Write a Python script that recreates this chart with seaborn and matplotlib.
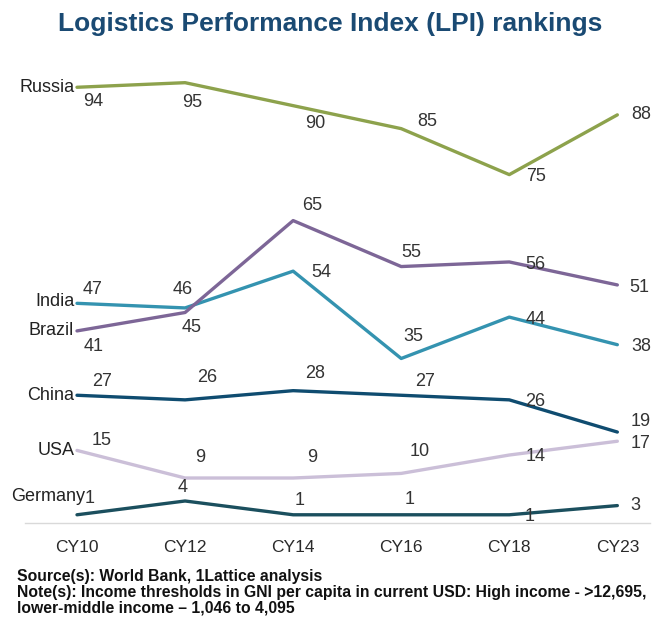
import pandas as pd
import seaborn as sns
from matplotlib import pyplot as plt
from matplotlib import font_manager

years = ['CY10', 'CY12', 'CY14', 'CY16', 'CY18', 'CY23']
countries = ['Russia', 'India', 'Brazil', 'China', 'USA', 'Germany']
russia = [94, 95, 90, 85, 75, 88]
india = [47, 46, 54, 35, 44, 38]
brazil = [41, 45, 65, 55, 56, 51]
china = [27, 26, 28, 27, 26, 19]
usa = [15, 9, 9, 10, 14, 17]
germany = [1, 4, 1, 1, 1, 3]

colors = {
    'Russia': '#8da24c',
    'India': '#3493b0',
    'Brazil': '#7d6697',
    'China': '#0f4c70',
    'USA': '#cbbfd8',
    'Germany': '#1b4f5e',
}

# label offsets in points (dx, dy) for each value label
offsets = {
    'Russia': [(12, -10), (5, -14), (16, -13), (19, 5), (19, -1), (17, 0)],
    'India': [(11, 10), (-1.5, 13), (20, -1), (9, 16), (19, -2), (17, -1.5)],
    'Brazil': [(12, -11), (5, -11), (14, 11), (7.5, 10), (19, -1.5), (16, -1.5)],
    'China': [(18, 10), (16, 16), (16, 12), (17, 10), (19, -1), (17, 7.5)],
    'USA': [(18, 7), (11, 15), (14, 15), (13, 16), (19, -1), (17, -1.5)],
    'Germany': [(9, 12), (-1.5, 10), (5, 10), (6, 11), (15, -1), (13, 0)],
}
# country name offsets in points (right edge, vertical centre)
name_offsets = {
    'Russia': (-2, 0), 'India': (-2, 1), 'Brazil': (-2, 0),
    'China': (-2, 0), 'USA': (-2, 0), 'Germany': (6, 13),
}

series = [russia, india, brazil, china, usa, germany]
df = pd.DataFrame({
    'year': years * len(countries),
    'pos': list(range(len(years))) * len(countries),
    'country': [c for c in countries for _ in years],
    'rank': [v for s in series for v in s],
})

sns.set_style('white')
avail = {f.name for f in font_manager.fontManager.ttflist}
narrow = 'Liberation Sans Narrow' if 'Liberation Sans Narrow' in avail else 'Liberation Sans'
plt.rcParams['font.family'] = ['Liberation Sans', 'DejaVu Sans']

fig = plt.figure(figsize=(6.61, 6.19), dpi=100)
ax = fig.add_axes([0.038, 0.155, 0.945, 0.73])

sns.lineplot(data=df, x='pos', y='rank', hue='country', palette=colors,
             linewidth=2.4, legend=False, ax=ax, sort=False)

for c, s in zip(countries, series):
    ax.annotate(c, (0, s[0]), xytext=name_offsets[c], textcoords='offset points',
                ha='right', va='center', fontsize=13, color='#222222')
    for i, v in enumerate(s):
        dx, dy = offsets[c][i]
        ax.annotate(str(v), (i, v), xytext=(dx, dy), textcoords='offset points',
                    ha='center', va='center', fontsize=13, color='#333333')

ax.set_xlim(-0.48, 5.3)
ax.set_ylim(-0.8, 97.5)
ax.set_xticks(range(len(years)))
ax.set_xticklabels(years, fontsize=12.5, color='#2a2a2a')
ax.tick_params(axis='x', length=0, pad=12)
ax.set_yticks([])
ax.set_xlabel('')
ax.set_ylabel('')
sns.despine(ax=ax, left=True, top=True, right=True)
ax.spines['bottom'].set_color('#d9d9d9')
ax.spines['bottom'].set_linewidth(1.0)

fig.text(0.5, 0.962, 'Logistics Performance Index (LPI) rankings', ha='center', va='center',
         fontsize=19, fontweight='bold', color='#1a4a73', family=[narrow, 'DejaVu Sans'])
foot = dict(ha='left', va='center', fontsize=11.3, fontweight='bold', color='#111111',
            family=[narrow, 'DejaVu Sans'])
fig.text(0.026, 0.069, 'Source(s): World Bank, 1Lattice analysis', **foot)
fig.text(0.026, 0.043, 'Note(s): Income thresholds in GNI per capita in current USD: High income - >12,695,', **foot)
fig.text(0.026, 0.018, 'lower-middle income \u2013 1,046 to 4,095', **foot)

fig.savefig('out.png', dpi=100)
